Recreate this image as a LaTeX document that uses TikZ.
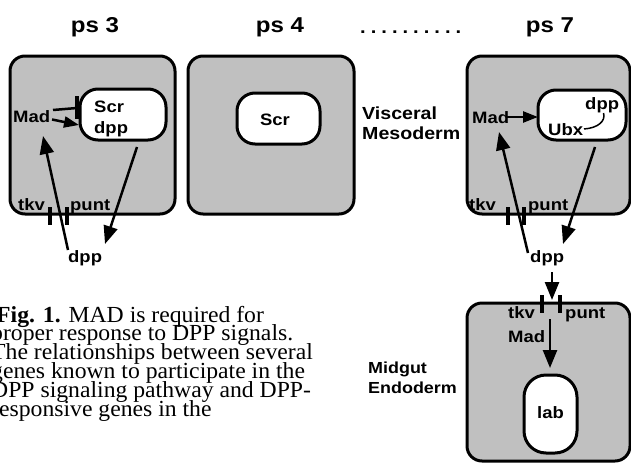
\documentclass[tikz,border=0pt]{standalone}
\usepackage{fontspec}
\setmainfont{Liberation Serif}[FakeStretch=1.03]
\newfontfamily\lsans{Liberation Sans}[FakeStretch=1.12]
\usetikzlibrary{arrows.meta}
\definecolor{cellgrey}{RGB}{192,192,192}
\begin{document}
\begin{tikzpicture}[x=1pt,y=-1pt,
  cell/.style={draw=black, line width=3pt, fill=cellgrey, rounded corners=15pt, inner sep=0pt},
  inbox/.style={draw=black, line width=3pt, fill=white, rounded corners=18pt, inner sep=0pt},
  lbl/.style={inner sep=0pt, anchor=base west, font=\lsans\bfseries\fontsize{16.5}{20}\selectfont},
  side/.style={inner sep=0pt, anchor=base west, font=\lsans\bfseries\fontsize{17.5}{21}\selectfont},
  head/.style={inner sep=0pt, anchor=base, font=\lsans\bfseries\fontsize{21.5}{26}\selectfont},
  captxt/.style={inner sep=0pt, anchor=base west, font=\fontsize{23}{18}\selectfont},
  bigarr/.style={line width=2.5pt, -{Triangle[length=18pt,width=14pt]}},
  smallarr/.style={line width=2.5pt, -{Triangle[length=15pt,width=11pt]}},
  recbar/.style={line width=3.5pt},
  thinline/.style={line width=2.5pt},
]
\useasboundingbox (0,0) rectangle (631,463);

% headers
\node[head] (h3) at (95,32) {ps 3};
\node[head] (h4) at (280,32) {ps 4};
\node[head] (h7) at (550,32) {ps 7};
\node[inner sep=0pt, anchor=base west, font=\lsans\bfseries\fontsize{18}{24}\selectfont] (dots) at (360,33)
  {.\kern5pt.\kern5pt.\kern5pt.\kern5pt.\kern5pt.\kern5pt.\kern5pt.\kern5pt.\kern5pt.};

% cells
\node[cell, minimum width=165pt, minimum height=158pt] (c1) at (92.5,135) {};
\node[cell, minimum width=166pt, minimum height=158pt] (c2) at (271,135) {};
\node[cell, minimum width=163pt, minimum height=158pt] (c3) at (548.5,135) {};
\node[cell, minimum width=163pt, minimum height=158pt] (c4) at (548.5,382) {};

% inner boxes
\node[inbox, minimum width=86pt, minimum height=51pt] (b1) at (123,114.5) {};
\node[inbox, minimum width=83pt, minimum height=51pt] (b2) at (278.5,118.5) {};
\node[inbox, minimum width=88pt, minimum height=50pt] (b3) at (582,115) {};
\node[inbox, rounded corners=22pt, minimum width=53pt, minimum height=78pt] (b4) at (550.5,414) {};

% side labels
\node[side] (vis) at (362,119) {Visceral};
\node[side] (mes) at (362,139) {Mesoderm};
\node[side, font=\lsans\bfseries\fontsize{16}{21}\selectfont] (mid) at (368,373) {Midgut};
\node[side, font=\lsans\bfseries\fontsize{16}{21}\selectfont] (endo) at (368,393) {Endoderm};

% ---- cell 1 (ps 3)
\node[lbl] (mad1) at (13,122.5) {Mad};
\node[lbl] (scr1) at (94,112.3) {Scr};
\node[lbl] (dppin1) at (94,133.6) {dpp};
\node[lbl] (tkv1) at (18,210) {tkv};
\node[lbl] (punt1) at (70,210) {punt};
\node[lbl] (dpp1) at (68,262.4) {dpp};
\coordinate (i1a) at (53,110);
\coordinate (i1b) at (77,108);
\coordinate (i1t) at (77,96);
\coordinate (i1u) at (77,119);
\draw[thinline] (i1a) -- (i1b);
\draw[recbar] (i1t) -- (i1u);
\coordinate (a1a) at (52,119.5);
\coordinate (a1b) at (79,125);
\draw[smallarr] (a1a) -- (a1b);
\coordinate (u1a) at (68,250);
\coordinate (u1b) at (43,136);
\draw[bigarr] (u1a) -- (u1b);
\coordinate (d1a) at (137,147);
\coordinate (d1b) at (105,244);
\draw[bigarr] (d1a) -- (d1b);
\coordinate (r1a) at (50,207); \coordinate (r1b) at (50,225);
\coordinate (r1c) at (67,207); \coordinate (r1d) at (67,225);
\draw[recbar] (r1a) -- (r1b);
\draw[recbar] (r1c) -- (r1d);

% ---- cell 2 (ps 4)
\node[lbl, anchor=base] (scr2) at (275,125.3) {Scr};

% ---- cell 3 (ps 7)
\node[lbl] (mad3) at (472,123.3) {Mad};
\node[lbl] (dppin3) at (585,109.4) {dpp};
\node[lbl] (ubx3) at (548,135.3) {Ubx};
\node[lbl] (tkv3) at (469,210) {tkv};
\node[lbl] (punt3) at (528,210) {punt};
\node[lbl] (dpp3) at (530,262.4) {dpp};
\coordinate (a3a) at (507,117);
\coordinate (a3b) at (538,117);
\draw[smallarr] (a3a) -- (a3b);
\coordinate (cv3a) at (584,129);
\coordinate (cv3b) at (603.5,113);
\draw[line width=1.5pt] (cv3a) .. controls (598,128) and (606,121) .. (cv3b);
\coordinate (u3a) at (528,253);
\coordinate (u3b) at (499,132);
\draw[bigarr] (u3a) -- (u3b);
\coordinate (d3a) at (595,147);
\coordinate (d3b) at (563,244);
\draw[bigarr] (d3a) -- (d3b);
\coordinate (r3a) at (508,207); \coordinate (r3b) at (508,225);
\coordinate (r3c) at (524,207); \coordinate (r3d) at (524,225);
\draw[recbar] (r3a) -- (r3b);
\draw[recbar] (r3c) -- (r3d);

% ---- cell 4 (midgut)
\node[lbl] (tkv4) at (508,318.5) {tkv};
\node[lbl] (punt4) at (565,318.5) {punt};
\node[lbl] (mad4) at (508,342) {Mad};
\node[lbl, anchor=base] (lab4) at (550.5,418) {lab};
\coordinate (s4a) at (552,272);
\coordinate (s4b) at (552,300);
\draw[bigarr] (s4a) -- (s4b);
\coordinate (r4a) at (542,295); \coordinate (r4b) at (542,313);
\coordinate (r4c) at (560,295); \coordinate (r4d) at (560,313);
\draw[recbar] (r4a) -- (r4b);
\draw[recbar] (r4c) -- (r4d);
\coordinate (m4a) at (550,319);
\coordinate (m4b) at (550,368);
\draw[bigarr] (m4a) -- (m4b);

% caption
\node[captxt] (cap1) at (-4,322) {\textbf{Fig. 1.} MAD is required for};
\node[captxt] (cap2) at (-9,340.8) {proper response to DPP signals.};
\node[captxt] (cap3) at (-9,359.6) {The relationships between several};
\node[captxt] (cap4) at (-9,378.4) {genes known to participate in the};
\node[captxt] (cap5) at (-9,397.2) {DPP signaling pathway and DPP-};
\node[captxt] (cap6) at (-9,416) {responsive genes in the};
\end{tikzpicture}
\end{document}
